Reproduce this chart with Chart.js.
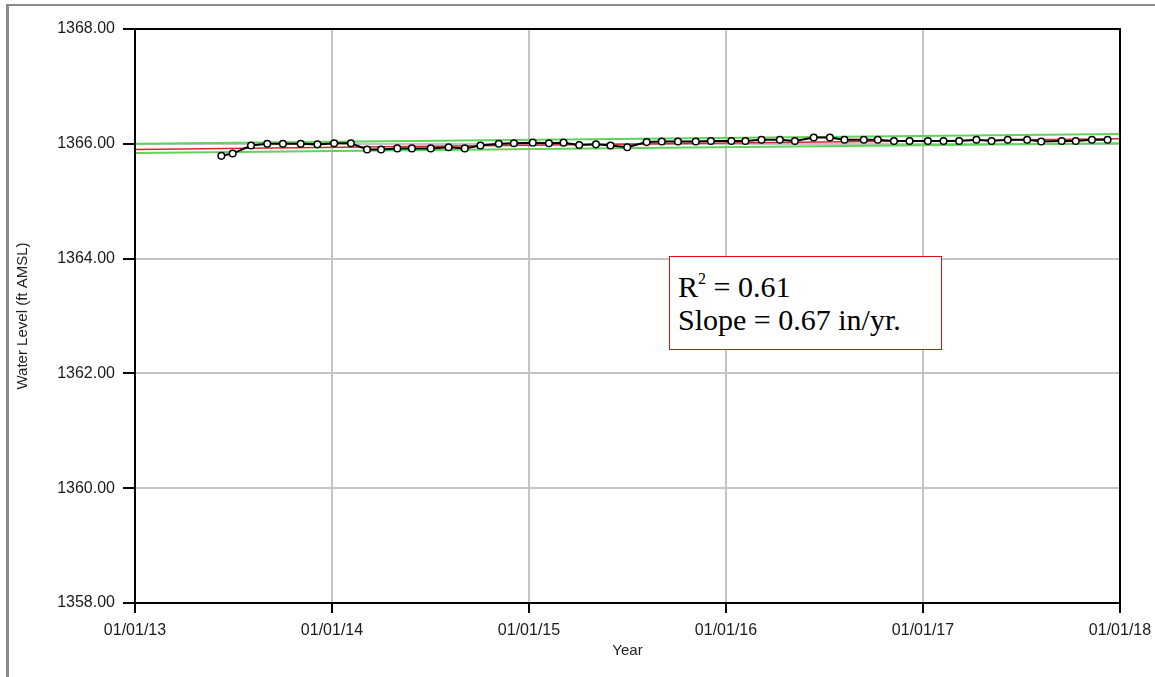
<!DOCTYPE html>
<html>
<head>
  <title>Water Level</title>
  <script src="https://cdn.jsdelivr.net/npm/chart.js"></script>
  <style>
    body { margin: 0; background: #fff; }
    #wrap { position: relative; width: 1155px; height: 677px; overflow: hidden; }
    #frame { position: absolute; left: 6px; top: 4px; width: 1200px; height: 700px;
             border-left: 3px solid #8a8a8a; border-top: 2px solid #8a8a8a; pointer-events: none; }
    #stats { position: absolute; left: 669px; top: 256px; width: 271px; height: 92px;
             border: 1px solid #e01010; background: #fff;
             font-family: "Liberation Serif", "Times New Roman", serif; font-size: 30px; color: #000; }
    #stats div { position: absolute; left: 8px; white-space: nowrap; line-height: 1; }
    #stats sup { font-size: 16px; vertical-align: 13px; line-height: 0; }
  </style>
</head>
<body>
<div id="wrap">
  <canvas id="levelChart" width="1155" height="677"></canvas>
  <div id="frame"></div>
  <div id="stats">
    <div style="top: 15px;">R<sup>2</sup> = 0.61</div>
    <div style="top: 48px;">Slope = 0.67 in/yr.</div>
  </div>
</div>

<script>
  // measured water levels (ft AMSL)
  const sampleDates = [
    '2013-06-10', '2013-07-01', '2013-08-04', '2013-09-03', '2013-10-02', '2013-11-04', '2013-12-05',
    '2014-01-05', '2014-02-05', '2014-03-07', '2014-04-02', '2014-05-02', '2014-05-29', '2014-07-03',
    '2014-08-05', '2014-09-04', '2014-10-03', '2014-11-06', '2014-12-04',
    '2015-01-08', '2015-02-07', '2015-03-06', '2015-04-04', '2015-05-05', '2015-06-01', '2015-07-02',
    '2015-08-07', '2015-09-04', '2015-10-04', '2015-11-06', '2015-12-04',
    '2016-01-11', '2016-02-06', '2016-03-07', '2016-04-10', '2016-05-08', '2016-06-12', '2016-07-12',
    '2016-08-08', '2016-09-13', '2016-10-09', '2016-11-08', '2016-12-07',
    '2017-01-10', '2017-02-08', '2017-03-09', '2017-04-10', '2017-05-08', '2017-06-07', '2017-07-13',
    '2017-08-08', '2017-09-15', '2017-10-11', '2017-11-10', '2017-12-09'
  ];
  const waterLevels = [
    1365.79, 1365.83, 1365.97, 1366.00, 1366.00, 1366.00, 1365.99,
    1366.01, 1366.01, 1365.90, 1365.90, 1365.92, 1365.92, 1365.92,
    1365.94, 1365.92, 1365.97, 1366.00, 1366.01,
    1366.02, 1366.01, 1366.02, 1365.98, 1365.99, 1365.97, 1365.94,
    1366.03, 1366.04, 1366.04, 1366.04, 1366.05,
    1366.05, 1366.05, 1366.07, 1366.07, 1366.05, 1366.11, 1366.11,
    1366.07, 1366.07, 1366.07, 1366.05, 1366.05,
    1366.05, 1366.05, 1366.05, 1366.07, 1366.05, 1366.07, 1366.07,
    1366.04, 1366.05, 1366.05, 1366.07, 1366.07
  ];

  // linear trend and its bounds, end points at 01/01/13 and 01/01/18
  const trendYears = [2013, 2018];
  const trendLine = [1365.90, 1366.09];
  const upperBound = [1366.00, 1366.17];
  const lowerBound = [1365.84, 1366.01];

  const yTicks = [1358, 1360, 1362, 1364, 1366, 1368];

  // date string -> decimal year
  function toYear(s) {
    const [y, m, d] = s.split('-').map(Number);
    const start = Date.UTC(y, 0, 1);
    const end = Date.UTC(y + 1, 0, 1);
    return y + (Date.UTC(y, m - 1, d) - start) / (end - start);
  }

  const levelPoints = sampleDates.map((d, i) => ({ x: toYear(d), y: waterLevels[i] }));
  const pairs = arr => trendYears.map((x, i) => ({ x: x, y: arr[i] }));

  // black frame around the plot area
  const plotFrame = {
    id: 'plotFrame',
    afterDraw(chart) {
      const { ctx, chartArea: a } = chart;
      ctx.save();
      ctx.strokeStyle = '#000';
      ctx.lineWidth = 2;
      ctx.strokeRect(a.left, a.top, a.right - a.left, a.bottom - a.top);
      ctx.restore();
    }
  };

  const sans = '"Liberation Sans", Arial, sans-serif';

  new Chart(document.getElementById('levelChart'), {
    type: 'line',
    data: {
      datasets: [
        {
          data: levelPoints,
          borderColor: '#000',
          borderWidth: 2,
          pointRadius: 3.3,
          pointBackgroundColor: '#fff',
          pointBorderColor: '#000',
          pointBorderWidth: 1.5,
          tension: 0
        },
        {
          data: pairs(trendLine),
          borderColor: '#d42a2a',
          borderWidth: 1.5,
          pointRadius: 0
        },
        {
          data: pairs(upperBound),
          borderColor: '#5fd35a',
          borderWidth: 2,
          pointRadius: 0
        },
        {
          data: pairs(lowerBound),
          borderColor: '#5fd35a',
          borderWidth: 2,
          pointRadius: 0
        }
      ]
    },
    options: {
      responsive: false,
      animation: false,
      layout: { padding: { top: 29, right: 35, left: 0, bottom: 0 } },
      plugins: { legend: { display: false }, tooltip: { enabled: false } },
      scales: {
        x: {
          type: 'linear',
          min: 2013,
          max: 2018,
          afterFit: s => { s.height = 74; s.paddingLeft = 0; s.paddingRight = 0; },
          ticks: {
            stepSize: 1,
            color: '#1a1a1a',
            padding: 8,
            maxRotation: 0,
            font: { family: sans, size: 16 },
            callback: v => '01/01/' + String(v).slice(2)
          },
          grid: { color: '#c4c4c4', lineWidth: 2, tickLength: 10, tickColor: '#000', tickWidth: 2 },
          border: { color: '#000', width: 2 },
          title: {
            display: true, text: 'Year', color: '#222',
            font: { family: sans, size: 15 }, padding: { top: 0, bottom: 17 }
          }
        },
        y: {
          min: 1358,
          max: 1368,
          afterFit: s => { s.width = 135; },
          afterBuildTicks: s => { s.ticks = yTicks.map(v => ({ value: v })); },
          ticks: {
            color: '#1a1a1a',
            padding: 8,
            font: { family: sans, size: 16 },
            callback: v => v.toFixed(2)
          },
          grid: { color: '#c4c4c4', lineWidth: 2, tickLength: 12, tickColor: '#000', tickWidth: 2 },
          border: { color: '#000', width: 2 },
          title: {
            display: true, text: 'Water Level (ft AMSL)', color: '#222',
            font: { family: sans, size: 15 }, padding: { top: 14, bottom: 0 }
          }
        }
      }
    },
    plugins: [plotFrame]
  });
</script>
</body>
</html>
